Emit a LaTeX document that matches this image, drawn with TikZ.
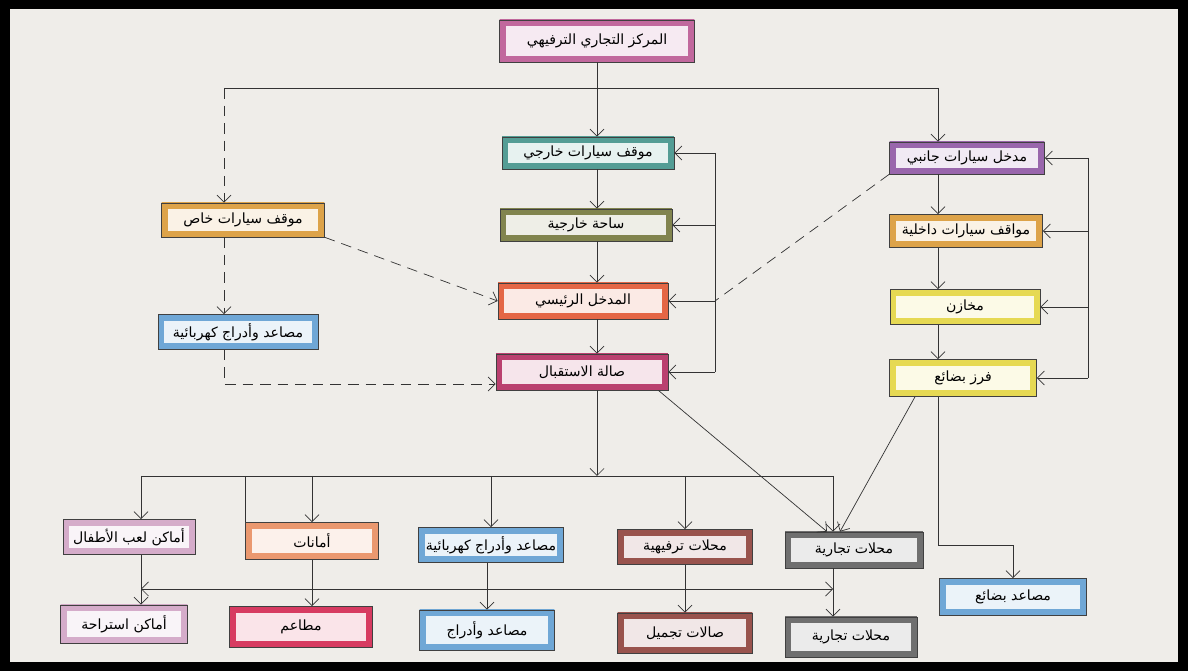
\documentclass[tikz,border=0pt]{standalone}
\usepackage{fontspec}
\usepackage{tikz}
\usetikzlibrary{arrows,arrows.meta,positioning,calc}
\TeXXeTstate=1
\newfontfamily\arabicfont[Script=Arabic]{DejaVu Sans}
\newcommand{\artxt}[1]{{\arabicfont\beginR #1\endR}}
\definecolor{paper}{HTML}{EFEDE9}
\definecolor{magc}{HTML}{B8528F}
\definecolor{tealc}{HTML}{3B8F86}
\definecolor{olivec}{HTML}{6E7234}
\definecolor{redc}{HTML}{E0502A}
\definecolor{crimc}{HTML}{B0245A}
\definecolor{purpc}{HTML}{8A4FA0}
\definecolor{ochrec}{HTML}{D9962E}
\definecolor{yelc}{HTML}{E3D43A}
\definecolor{bluec}{HTML}{5A9AD0}
\definecolor{orangec}{HTML}{E8895A}
\definecolor{rosec}{HTML}{D21E4A}
\definecolor{brownc}{HTML}{8A3A33}
\definecolor{greyc}{HTML}{5A5A5A}
\definecolor{lilac}{HTML}{CFA0C3}
\tikzset{
	block/.style = {draw=black!75, thin, fill=#1!12, rectangle, minimum height=0.68cm,
		inner sep=1pt, font=\footnotesize,
		path picture={\draw[#1, line width=7pt, opacity=0.85]
			(path picture bounding box.south west) rectangle (path picture bounding box.north east);}},
	tmp/.style = {coordinate},
	line/.style = {draw=black!80, thin},
	dline/.style = {draw=black!80, thin, dash pattern=on 6pt off 4pt}
}
\begin{document}
\begin{tikzpicture}[x=0.02cm,y=-0.02cm,>={Straight Barb[length=4pt,width=8pt]}]
		\fill[black] (0,0) rectangle (1188,671);
		\fill[paper] (10,9) rectangle (1178,662);

		% centre column
		\node [block=magc, minimum width=3.9cm, minimum height=0.84cm] (top) at (597,41) {\artxt{المركز التجاري الترفيهي}};
		\node [block=tealc, minimum width=3.44cm, minimum height=0.64cm] (mvk) at (588,153) {\artxt{موقف سيارات خارجي}};
		\node [block=olivec, minimum width=3.44cm, minimum height=0.64cm] (saha) at (586,225) {\artxt{ساحة خارجية}};
		\node [block=redc, minimum width=3.4cm, minimum height=0.72cm] (mdkhl) at (583,301) {\artxt{المدخل الرئيسي}};
		\node [block=crimc, minimum width=3.44cm, minimum height=0.72cm] (sala) at (582,372) {\artxt{صالة الاستقبال}};

		% right column
		\node [block=purpc, minimum width=3.1cm, minimum height=0.64cm] (jnb) at (967,158) {\artxt{مدخل سيارات جانبي}};
		\node [block=ochrec, minimum width=3.06cm, minimum height=0.66cm] (dkh) at (966,231) {\artxt{مواقف سيارات داخلية}};
		\node [block=yelc, minimum width=3.0cm, minimum height=0.7cm] (mkh) at (965,307) {\artxt{مخازن}};
		\node [block=yelc, minimum width=2.94cm, minimum height=0.74cm] (frz) at (963,378) {\artxt{فرز بضائع}};

		% left column
		\node [block=ochrec, minimum width=3.26cm] (khas) at (243,220) {\artxt{موقف سيارات خاص}};
		\node [block=bluec, minimum width=3.2cm, minimum height=0.7cm] (msl) at (238,332) {\artxt{مصاعد وأدراج كهربائية}};

		% first row
		\node [block=lilac, minimum width=2.64cm, minimum height=0.7cm] (lab) at (129,537) {\artxt{أماكن لعب الأطفال}};
		\node [block=orangec, minimum width=2.66cm, minimum height=0.74cm] (amn) at (312,541) {\artxt{أمانات}};
		\node [block=bluec, minimum width=2.9cm, minimum height=0.7cm] (msb) at (491,545) {\artxt{مصاعد وأدراج كهربائية}};
		\node [block=brownc, minimum width=2.7cm, minimum height=0.7cm] (trf) at (685,547) {\artxt{محلات ترفيهية}};
		\node [block=greyc, minimum width=2.76cm, minimum height=0.72cm] (tjr) at (854,550) {\artxt{محلات تجارية}};

		% second row
		\node [block=lilac, minimum width=2.54cm, minimum height=0.76cm] (str) at (124,624) {\artxt{أماكن استراحة}};
		\node [block=rosec, minimum width=2.86cm, minimum height=0.82cm] (mtm) at (301,627) {\artxt{مطاعم}};
		\node [block=bluec, minimum width=2.7cm, minimum height=0.8cm] (mdr) at (487,630) {\artxt{مصاعد وأدراج}};
		\node [block=brownc, minimum width=2.7cm, minimum height=0.8cm] (tjm) at (685,633) {\artxt{صالات تجميل}};
		\node [block=greyc, minimum width=2.64cm, minimum height=0.8cm] (tjr2) at (851,637) {\artxt{محلات تجارية}};
		\node [block=bluec, minimum width=2.94cm, minimum height=0.74cm] (bda) at (1013,597) {\artxt{مصاعد بضائع}};

		% helper points
		\node [tmp] (cx) at (597,88) {};
		\node [tmp] (tl) at (224,88) {};
		\node [tmp] (tr) at (938,88) {};
		\node [tmp] (lb) at (715,0) {};
		\node [tmp] (rb) at (1088,0) {};
		\node [tmp] (busl) at (141,476) {};
		\node [tmp] (busr) at (833,476) {};
		\node [tmp] (hh) at (0,589) {};
		\node [tmp] (bk) at (938,545) {};

		% top branch
		\draw [line,->] (top.south -| cx) -- (mvk.north -| cx);
		\draw [line] (tl) -- (tr);
		\draw [line,->] (tr) -- (tr |- jnb.north);
		\draw [dline,->] (tl) -- (tl |- khas.north);

		% centre chain
		\draw [line,->] (mvk.south -| cx) -- (saha.north -| cx);
		\draw [line,->] (saha.south -| cx) -- (mdkhl.north -| cx);
		\draw [line,->] (mdkhl.south -| cx) -- (sala.north -| cx);
		\draw [line] (mvk.east -| lb) -- (sala.east -| lb);
		\draw [line,->] (mvk.east -| lb) -- (mvk.east);
		\draw [line,->] (saha.east -| lb) -- (saha.east);
		\draw [line,->] (mdkhl.east -| lb) -- (mdkhl.east);
		\draw [line,->] (sala.east -| lb) -- (sala.east);
		\draw [dline] (jnb.south west) -- (mdkhl.east -| lb);

		% right chain
		\draw [line,->] (jnb.south -| tr) -- (dkh.north -| tr);
		\draw [line,->] (dkh.south -| tr) -- (mkh.north -| tr);
		\draw [line,->] (mkh.south -| tr) -- (frz.north -| tr);
		\draw [line] (jnb.east -| rb) -- (frz.east -| rb);
		\draw [line,->] (jnb.east -| rb) -- (jnb.east);
		\draw [line,->] (dkh.east -| rb) -- (dkh.east);
		\draw [line,->] (mkh.east -| rb) -- (mkh.east);
		\draw [line,->] (frz.east -| rb) -- (frz.east);

		% left chain
		\draw [dline,->] (khas.south east) -- (mdkhl.west);
		\draw [dline,->] (khas.south -| tl) -- (msl.north -| tl);
		\draw [dline,->] (msl.south -| tl) |- ([yshift=-0.24cm]sala.west);

		% lower part
		\draw [line,->] (sala.south -| cx) -- (cx |- busl);
		\draw [line] (busl) -- (busr);
		\draw [line,->] (busl) -- (busl |- lab.north);
		\draw [line] (busl -| amn.north west) -- (amn.north west);
		\draw [line,->] (busl -| amn.north) -- (amn.north);
		\draw [line,->] (busl -| msb.north) -- (msb.north);
		\draw [line,->] (busl -| trf.north) -- (trf.north);
		\draw [line,->] (busr) -- (busr |- tjr.north);
		\draw [line,->] ([xshift=-0.2cm]sala.south east) -- ([xshift=-0.54cm]tjr.north);
		\draw [line,->] ([xshift=-0.96cm]frz.south) -- ([xshift=-0.28cm]tjr.north);
		\draw [line,->] (frz.south -| bk) -- (bk) -| (bda.north);

		\draw [line,->] (lab.south -| busl) -- (str.north -| busl);
		\draw [line,->] (amn.south) -- (amn.south |- mtm.north);
		\draw [line,->] (msb.south -| mdr.north) -- (mdr.north);
		\draw [line,->] (trf.south) -- (tjm.north);
		\draw [line,->] (tjr.south -| busr) -- (tjr2.north -| busr);
		\draw [line,<->] (busl |- hh) -- (busr |- hh);
	\end{tikzpicture}
\end{document}
